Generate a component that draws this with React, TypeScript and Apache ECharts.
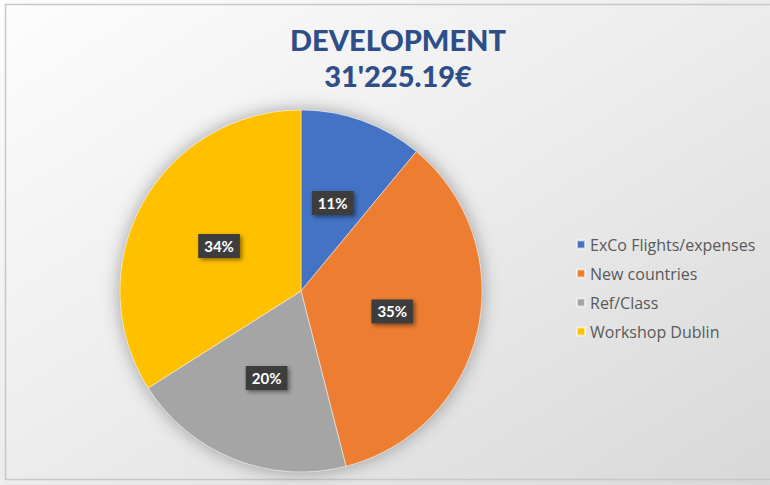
import React, { useEffect, useRef } from "react";
import * as echarts from "echarts";

const titleLines = ["DEVELOPMENT", "31'225.19€"];
const categories = ["ExCo Flights/expenses", "New countries", "Ref/Class", "Workshop Dublin"];
const shares = [11, 35, 20, 34];
const colors = ["#4472C4", "#ED7D31", "#A5A5A5", "#FFC000"];

export default function App() {
  const ref = useRef<HTMLDivElement>(null);
  useEffect(() => {
    if (!ref.current) return;
    const chart = echarts.init(ref.current, null, { renderer: "svg" });
    const data = categories.map((name, i) => ({ name, value: shares[i], itemStyle: { color: colors[i] } }));
    chart.setOption({
      animation: false,
      backgroundColor: new echarts.graphic.LinearGradient(0, 0, 1, 1, [
        { offset: 0, color: "#fdfdfd" },
        { offset: 0.5, color: "#ececec" },
        { offset: 1, color: "#d8d8d8" },
      ]),
      title: {
        text: titleLines[0],
        subtext: titleLines[1],
        left: 393,
        textAlign: "center",
        top: 20,
        itemGap: 7,
        textStyle: { fontFamily: "Lato", fontWeight: 900, fontSize: 29, color: "#2d4e88" },
        subtextStyle: { fontFamily: "Lato", fontWeight: 900, fontSize: 29, color: "#2d4e88" },
      },
      legend: {
        orient: "vertical",
        left: 571,
        top: 231,
        icon: "rect",
        itemWidth: 8,
        itemHeight: 8,
        itemGap: 12,
        data: categories,
        textStyle: { fontFamily: "Open Sans", fontSize: 16, color: "#595959", lineHeight: 17 },
      },
      graphic: [
        {
          type: "rect",
          shape: { x: 5.5, y: 4.5, width: 800, height: 475 },
          style: { fill: "none", stroke: "#c8c8c8", lineWidth: 1.5 },
          silent: true,
        },
      ],
      series: [
        {
          type: "pie",
          silent: true,
          center: [301, 291],
          radius: [0, 181],
          label: { show: false },
          labelLine: { show: false },
          itemStyle: { color: "#cccccc", shadowBlur: 18, shadowColor: "rgba(0,0,0,0.35)" },
          data: [{ name: "", value: 1 }],
          legendHoverLink: false,
        },
        {
          type: "pie",
          center: [301, 291],
          radius: [0, 181],
          startAngle: 90,
          clockwise: true,
          itemStyle: { borderColor: "rgba(255,255,255,0.6)", borderWidth: 0.8 },
          label: {
            show: true,
            position: "inside",
            formatter: (p: any) => `${Math.round(p.percent)}%`,
            fontFamily: "Lato",
            fontWeight: "bold",
            fontSize: 15,
            color: "#ffffff",
            backgroundColor: "#3d3d3d",
            padding: [5, 6, 4, 6],
            shadowBlur: 4,
            shadowColor: "rgba(0,0,0,0.45)",
            shadowOffsetX: 2,
            shadowOffsetY: 2,
          },
          labelLine: { show: false },
          data,
        },
      ],
    });
    return () => chart.dispose();
  }, []);
  return (
    <div
      ref={ref}
      style={{ position: "fixed", left: 0, top: 0, width: 770, height: 485 }}
    />
  );
}
